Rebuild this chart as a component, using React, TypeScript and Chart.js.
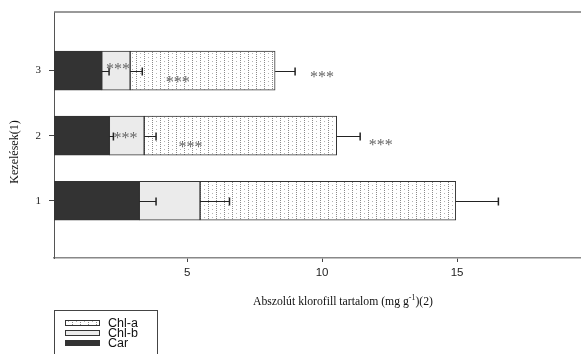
import React, { useEffect, useRef } from 'react';
import { Chart, registerables } from 'chart.js';
Chart.register(...registerables);

const categories = [1, 2, 3];
const categoryLabels = ['1', '2', '3'];
const seriesNames = ['Car', 'Chl-b', 'Chl-a'];
const carValues = [3.23, 2.12, 1.84];
const chlbValues = [2.25, 1.29, 1.05];
const chlaValues = [9.47, 7.13, 5.37];
const carErr = [0.62, 0.15, 0.27];
const chlbErr = [1.09, 0.44, 0.45];
const chlaErr = [1.58, 0.87, 0.74];
const xTicks = [5, 10, 15];
const xTitleMain = 'Abszolút klorofill tartalom (mg g';
const xTitleSup = '-1';
const xTitleEnd = ')(2)';
const yTitle = 'Kezelések(1)';
// significance marks: [x value, category position]
const starX = [2.44, 4.65, 10.0, 2.72, 5.13, 12.17];
const starY = [3.08, 2.88, 2.95, 2.02, 1.88, 1.9];
const starText = '***';

function makePattern(): CanvasPattern | string {
  const c = document.createElement('canvas');
  c.width = 8; c.height = 8;
  const g = c.getContext('2d');
  if (!g) return '#fff';
  g.fillStyle = '#ffffff';
  g.fillRect(0, 0, 8, 8);
  g.fillStyle = '#8a8a8a';
  for (let y = 0; y < 8; y += 2) g.fillRect(0, y, 1, 1);
  g.fillStyle = '#b5b5b5';
  g.fillRect(4, 1, 1, 1);
  g.fillRect(4, 5, 1, 1);
  return g.createPattern(c, 'repeat') || '#fff';
}

export default function App() {
  const ref = useRef<HTMLCanvasElement>(null);
  useEffect(() => {
    document.body.style.margin = '0';
    const canvas = ref.current;
    if (!canvas) return;
    const pattern = makePattern();
    const errs = [carErr, chlbErr, chlaErr];
    const vals = [carValues, chlbValues, chlaValues];
    const fills: any[] = ['#333333', '#ebebeb', pattern];

    const decor = {
      id: 'decor',
      afterDatasetsDraw(chart: any) {
        const ctx = chart.ctx;
        const xs = chart.scales.x;
        const ys = chart.scales.y;
        ctx.save();
        // error bars
        ctx.strokeStyle = '#222';
        for (let i = 0; i < categories.length; i++) {
          let cum = 0;
          for (let d = 0; d < vals.length; d++) {
            cum += vals[d][i];
            const x1 = xs.getPixelForValue(cum);
            const x2 = xs.getPixelForValue(cum + errs[d][i]);
            const y = Math.round(ys.getPixelForValue(categories[i])) + 0.5;
            ctx.lineWidth = 1;
            ctx.beginPath();
            ctx.moveTo(x1, y);
            ctx.lineTo(x2, y);
            ctx.stroke();
            ctx.lineWidth = 1.5;
            ctx.beginPath();
            ctx.moveTo(x2, y - 4);
            ctx.lineTo(x2, y + 4);
            ctx.stroke();
          }
        }
        // stars
        ctx.fillStyle = '#666';
        ctx.font = '16px "Liberation Serif"';
        ctx.textAlign = 'center';
        ctx.textBaseline = 'middle';
        for (let k = 0; k < starX.length; k++) {
          ctx.fillText(starText, xs.getPixelForValue(starX[k]), ys.getPixelForValue(starY[k]) + 4);
        }
        ctx.restore();
      },
      afterDraw(chart: any) {
        const ctx = chart.ctx;
        const a = chart.chartArea;
        ctx.save();
        // top frame line
        ctx.strokeStyle = '#777';
        ctx.lineWidth = 1.5;
        ctx.beginPath();
        ctx.moveTo(a.left, a.top);
        ctx.lineTo(a.right, a.top);
        ctx.stroke();
        // x title
        ctx.fillStyle = '#111';
        ctx.textBaseline = 'middle';
        ctx.textAlign = 'left';
        ctx.font = '11.7px "Liberation Serif"';
        const w1 = ctx.measureText(xTitleMain).width;
        const w3 = ctx.measureText(xTitleEnd).width;
        ctx.font = '8px "Liberation Serif"';
        const w2 = ctx.measureText(xTitleSup).width;
        const total = w1 + w2 + w3;
        let tx = 343 - total / 2;
        const ty = 302;
        ctx.font = '11.7px "Liberation Serif"';
        ctx.fillText(xTitleMain, tx, ty);
        tx += w1;
        ctx.font = '8px "Liberation Serif"';
        ctx.fillText(xTitleSup, tx, ty - 4);
        tx += w2;
        ctx.font = '11.7px "Liberation Serif"';
        ctx.fillText(xTitleEnd, tx, ty);
        // y title
        ctx.save();
        ctx.translate(15, 152);
        ctx.rotate(-Math.PI / 2);
        ctx.textAlign = 'center';
        ctx.font = '12px "Liberation Serif"';
        ctx.fillText(yTitle, 0, 0);
        ctx.restore();
        // legend
        ctx.strokeStyle = '#444';
        ctx.lineWidth = 1;
        ctx.strokeRect(54.5, 310.5, 103, 60);
        const order = [2, 1, 0];
        const ly = [323, 333, 343];
        ctx.font = '12.5px "Liberation Sans"';
        for (let k = 0; k < order.length; k++) {
          const d = order[k];
          ctx.fillStyle = fills[d];
          ctx.fillRect(65, ly[k] - 3, 35, 6);
          ctx.strokeStyle = '#333';
          ctx.strokeRect(65.5, ly[k] - 2.5, 34, 5);
          ctx.fillStyle = '#111';
          ctx.textAlign = 'left';
          ctx.fillText(seriesNames[d], 108, ly[k] + 0.5);
        }
        ctx.restore();
      },
    };

    const chart = new Chart(canvas, {
      type: 'bar',
      data: {
        datasets: vals.map((v, d) => ({
          label: seriesNames[d],
          data: v.map((val, i) => ({ x: val, y: categories[i] })),
          backgroundColor: fills[d],
          borderColor: '#333',
          borderWidth: 1,
          barThickness: 39,
          borderSkipped: false,
        })),
      },
      options: {
        indexAxis: 'y',
        animation: false,
        responsive: false,
        maintainAspectRatio: false,
        layout: { padding: { top: 12, right: 0, left: 0, bottom: 0 } },
        plugins: { legend: { display: false }, tooltip: { enabled: false } },
        scales: {
          x: {
            type: 'linear',
            stacked: true,
            min: 0.07,
            max: 19.59,
            offset: false,
            afterFit: (s: any) => { s.height = 96; s.paddingLeft = 0; s.paddingRight = 0; },
            afterBuildTicks: (s: any) => { s.ticks = xTicks.map((v) => ({ value: v })); },
            grid: { drawOnChartArea: false, drawTicks: true, tickLength: 4, color: '#444', offset: false },
            border: { display: true, color: '#888', width: 1.5 },
            ticks: { color: '#222', font: { family: 'Liberation Sans', size: 11.5 }, padding: 4, maxRotation: 0 },
          },
          y: {
            type: 'linear',
            stacked: true,
            min: 0.12,
            max: 3.9,
            offset: false,
            afterFit: (s: any) => { s.width = 54; s.paddingTop = 0; s.paddingBottom = 0; },
            afterBuildTicks: (s: any) => { s.ticks = categories.map((v) => ({ value: v })); },
            grid: { drawOnChartArea: false, drawTicks: true, tickLength: 5, color: '#444', offset: false },
            border: { display: true, color: '#555', width: 1 },
            ticks: {
              color: '#222',
              font: { family: 'Liberation Serif', size: 11 },
              padding: 8,
              callback: (v: any) => categoryLabels[categories.indexOf(Number(v))] ?? '',
            },
          },
        },
      },
      plugins: [decor],
    });
    return () => chart.destroy();
  }, []);
  return (
    <div style={{ width: 581, height: 354, overflow: 'hidden' }}>
      <canvas ref={ref} width={581} height={354} style={{ display: 'block' }} />
    </div>
  );
}
